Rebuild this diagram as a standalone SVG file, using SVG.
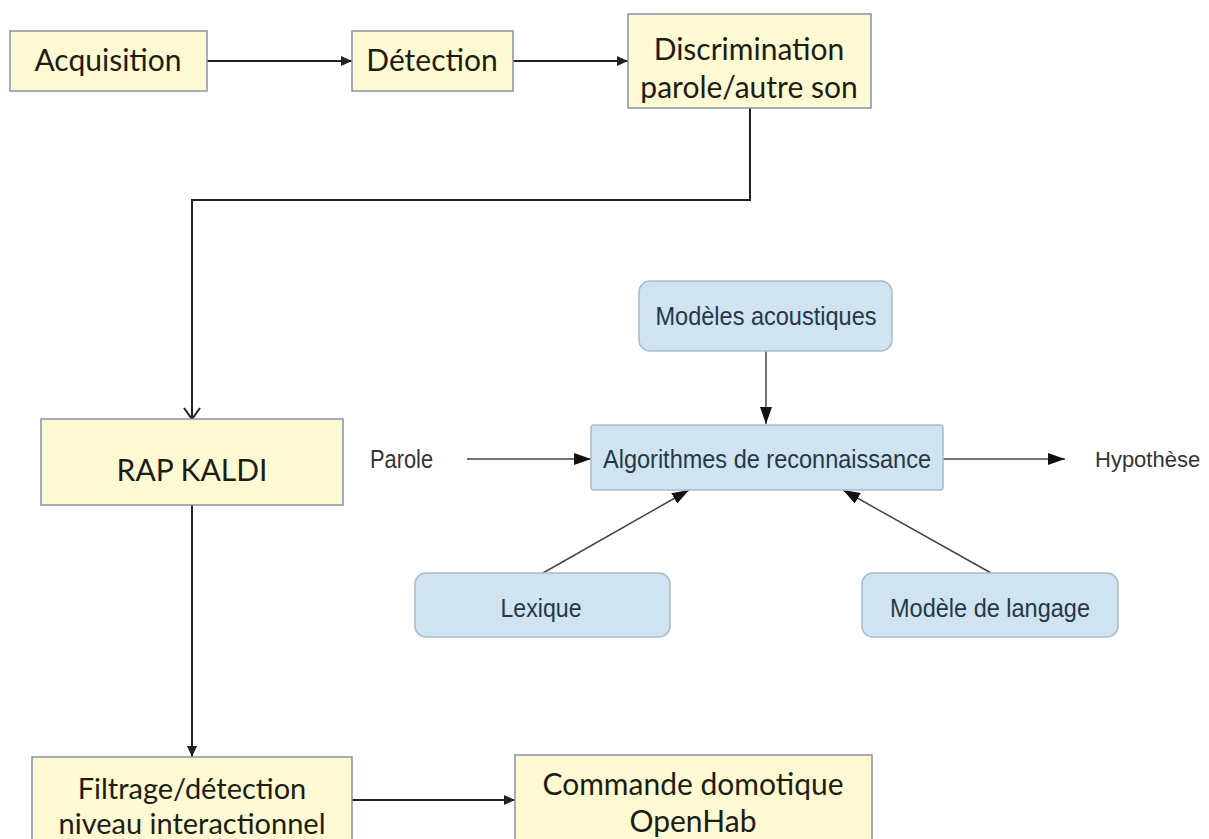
<svg xmlns="http://www.w3.org/2000/svg" width="1209" height="839" viewBox="0 0 1209 839">
<style>
.yb{fill:#fcf9d3;stroke:#8593a8;stroke-width:1.5}
.bb{fill:#cfe3f1;stroke:#a9bccb;stroke-width:1.5}
.yt{font-family:Lato,"Open Sans",sans-serif;font-size:30px;fill:#1d1d12;text-anchor:middle}
.bt{font-family:"Liberation Sans",Arial,sans-serif;font-size:25px;fill:#263847;text-anchor:middle}
.lt{font-family:"Liberation Sans",Arial,sans-serif;font-size:25px;fill:#333;}
.cy{fill:none;stroke:#222;stroke-width:2}
.cb{fill:none;stroke:#444;stroke-width:1.5}
</style>
<defs>
<marker id="tri" markerUnits="userSpaceOnUse" markerWidth="11" markerHeight="10" refX="11" refY="5" orient="auto"><path d="M0,0 L11,5 L0,10 z" fill="#222"/></marker>
<marker id="vee" markerUnits="userSpaceOnUse" markerWidth="14" markerHeight="18" refX="12" refY="9" orient="auto"><path d="M1,1 L12,9 L1,17" fill="none" stroke="#222" stroke-width="2"/></marker>
<marker id="btri" markerUnits="userSpaceOnUse" markerWidth="17" markerHeight="12" refX="17" refY="6" orient="auto"><path d="M0,0 L17,6 L0,12 z" fill="#111"/></marker>
</defs>
<rect width="1209" height="839" fill="#fff"/>
<g id="connectors">
<path class="cy" d="M207,61 H352" marker-end="url(#tri)"/>
<path class="cy" d="M513,61 H628" marker-end="url(#tri)"/>
<path class="cy" d="M750,108 V200 H192 V419" marker-end="url(#vee)"/>
<path class="cy" d="M192,505 V757" marker-end="url(#tri)"/>
<path class="cy" d="M352,800 H515" marker-end="url(#tri)"/>
<path class="cb" d="M766,351 V424" marker-end="url(#btri)"/>
<path class="cb" d="M467,459 H591" marker-end="url(#btri)"/>
<path class="cb" d="M943,459 H1065" marker-end="url(#btri)"/>
<path class="cb" d="M543,573 L689,490" marker-end="url(#btri)"/>
<path class="cb" d="M991,573 L843,490" marker-end="url(#btri)"/>
</g>
<g id="acquisition"><rect class="yb" x="10" y="31" width="197" height="60"/><text class="yt" x="108" y="71">Acquisition</text></g>
<g id="detection"><rect class="yb" x="352" y="31" width="161" height="60"/><text class="yt" x="432" y="71">Détection</text></g>
<g id="discrimination"><rect class="yb" x="628" y="14" width="243" height="94"/><text class="yt" x="749" y="60">Discrimination</text><text class="yt" x="749" y="98">parole/autre son</text></g>
<g id="rapkaldi"><rect class="yb" x="41" y="419" width="302" height="86"/><text class="yt" x="192" y="481">RAP KALDI</text></g>
<g id="filtrage"><rect class="yb" x="32" y="757" width="320" height="95"/><text class="yt" x="192" y="799" style="font-size:29px">Filtrage/détection</text><text class="yt" x="192" y="834" style="font-size:29px">niveau interactionnel</text></g>
<g id="commande"><rect class="yb" x="515" y="755" width="357" height="97"/><text class="yt" x="693" y="795">Commande domotique</text><text class="yt" x="693" y="832">OpenHab</text></g>
<g id="modeles-acoustiques"><rect class="bb" x="639" y="281" width="253" height="70" rx="11"/><text class="bt" x="766" y="325" textLength="221" lengthAdjust="spacingAndGlyphs">Modèles acoustiques</text></g>
<g id="algorithmes"><rect class="bb" x="591" y="425" width="352" height="65" rx="3"/><text class="bt" x="767" y="468" textLength="328" lengthAdjust="spacingAndGlyphs">Algorithmes de reconnaissance</text></g>
<g id="lexique"><rect class="bb" x="415" y="573" width="255" height="64" rx="11"/><text class="bt" x="541" y="617" textLength="81" lengthAdjust="spacingAndGlyphs">Lexique</text></g>
<g id="modele-langage"><rect class="bb" x="862" y="573" width="256" height="64" rx="11"/><text class="bt" x="990" y="617" textLength="200" lengthAdjust="spacingAndGlyphs">Modèle de langage</text></g>
<g id="parole"><text class="lt" x="370" y="468" textLength="63" lengthAdjust="spacingAndGlyphs">Parole</text></g>
<g id="hypothese"><text class="lt" x="1095" y="467" style="font-size:22px">Hypothèse</text></g>
</svg>
